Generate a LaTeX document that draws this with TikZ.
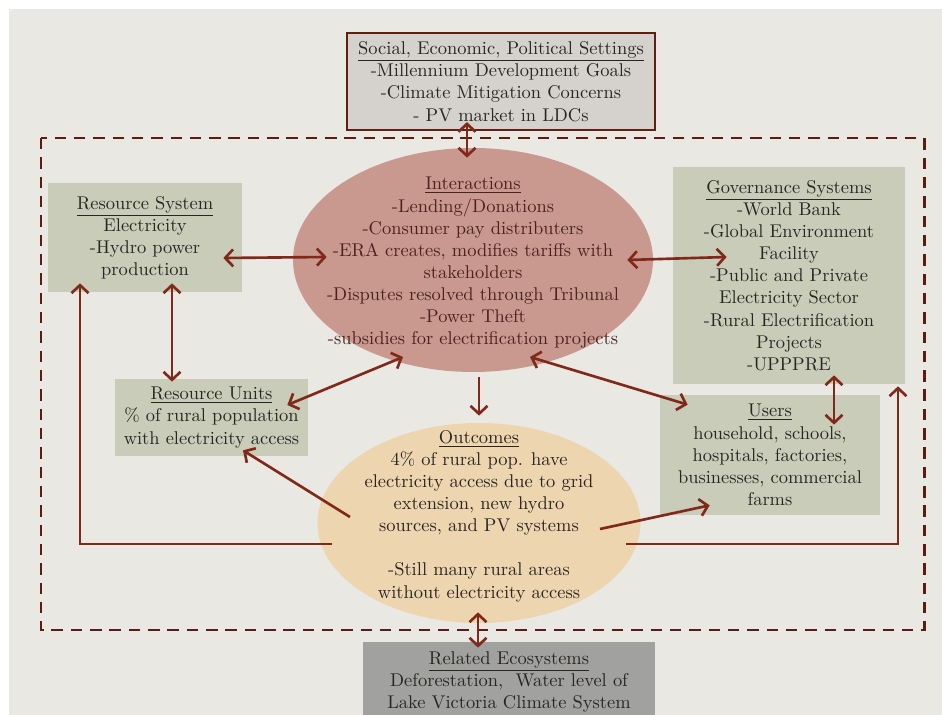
\documentclass[tikz,border=0pt]{standalone}
\usepackage{tikz}
\usetikzlibrary{arrows.meta,shapes.geometric}
\definecolor{slidebg}{RGB}{233,232,226}
\definecolor{sagebox}{RGB}{200,204,184}
\definecolor{greybox}{RGB}{213,210,205}
\definecolor{darkgreybox}{RGB}{161,161,160}
\definecolor{rosefill}{RGB}{201,152,142}
\definecolor{tanfill}{RGB}{237,213,176}
\definecolor{arrowred}{RGB}{128,40,26}
\definecolor{dashbrown}{RGB}{92,28,18}
\definecolor{inktext}{RGB}{40,38,34}
\definecolor{inkbrown}{RGB}{72,36,30}

\begin{document}
\begin{tikzpicture}[x=0.02cm,y=-0.02cm,
  every node/.style={font=\fontsize{10.5}{12.6}\selectfont,text=inktext,align=center,inner sep=0pt},
  sagebox/.style={rectangle,fill=sagebox},
  oval/.style={ellipse},
  >={Straight Barb[length=1.6mm,width=3.4mm]},
  link/.style={draw=arrowred,line width=1.5pt}]
\useasboundingbox (0,0) rectangle (942,715);
\fill[slidebg] (9,9) rectangle (942,715);

% outer settings and the dashed system border
\node[rectangle,fill=greybox,draw=arrowred!75!black,line width=1.2pt,minimum width=6.16cm,minimum height=1.94cm] (setting) at (501,81.5)
  {\underline{Social, Economic, Political Settings}\\-Millennium Development Goals\\-Climate Mitigation Concerns\\- PV market in LDCs};
\draw[dashbrown,line width=1.7pt,dash pattern=on 6.5pt off 4.5pt] (41,138) rectangle (924,630);

% boxes
\node[sagebox,minimum width=3.88cm,minimum height=2.18cm] (resys) at (145,237.5)
  {\underline{Resource System}\\Electricity\\-Hydro power\\production};
\node[sagebox,minimum width=4.64cm,minimum height=4.34cm] (gov) at (789,275.5)
  {\underline{Governance Systems}\\-World Bank\\-Global Environment\\Facility\\-Public and Private\\Electricity Sector\\-Rural Electrification\\Projects\\-UPPPRE};
\node[sagebox,minimum width=3.86cm,minimum height=1.54cm] (runits) at (211.5,417.5)
  {\underline{Resource Units}\\\% of rural population\\with electricity access};
\node[sagebox,minimum width=4.4cm,minimum height=2.4cm] (users) at (770,455)
  {\underline{Users}\\household, schools,\\hospitals, factories,\\businesses, commercial\\farms};
\node[rectangle,fill=darkgreybox,minimum width=5.84cm,minimum height=1.6cm] (releco) at (509,682)
  {\underline{Related Ecosystems}\\Deforestation,\ \ Water level of\\Lake Victoria Climate System};

% ellipses
\node[oval,fill=rosefill,minimum width=7.2cm,minimum height=4.48cm] (inter) at (473,260) {};
\node[text=inkbrown] (intertext) at (473,263)
  {\underline{Interactions}\\-Lending/Donations\\-Consumer pay distributers\\-ERA creates, modifies tariffs with\\stakeholders\\-Disputes resolved through Tribunal\\-Power Theft\\-subsidies for electrification projects};
\node[oval,fill=tanfill,minimum width=6.46cm,minimum height=4cm] (outc) at (479,523) {};
\node (outctext) at (479,516)
  {\underline{Outcomes}\\4\% of rural pop. have\\electricity access due to grid\\extension, new hydro\\sources, and PV systems\\[12.6pt]-Still many rural areas\\without electricity access};

% connectors
\draw[link,<->] ([shift={(-34,-9)}]setting.south) -- ([shift={(-6,10)}]inter.north);
\draw[link,<->] ([shift={(-19,20.5)}]resys.east) -- ([shift={(34,-3)}]inter.west);
\draw[link,<->] ([shift={(-26,0)}]inter.east) -- ([shift={(54,-18.5)}]gov.west);
\draw[link,<->] ([shift={(27,-9)}]resys.south) -- ([shift={(-39.5,3)}]runits.north);
\draw[link,<->] ([shift={(-70,97)}]inter.center) -- ([shift={(-21,-12.5)}]runits.east);
\draw[link,->] ([shift={(6,5)}]inter.south) -- ([shift={(0,-7)}]outc.north);
\draw[link,<->] ([shift={(57,97)}]inter.center) -- ([shift={(28,10)}]users.north west);
\draw[link,<->] ([shift={(45,-9)}]gov.south) -- ([shift={(64,30)}]users.north);
\draw[link,->] ([shift={(-129,-6)}]outc.center) -- ([shift={(31.5,-6)}]runits.south);
\draw[link,->] ([shift={(121,6)}]outc.center) -- ([shift={(50,-10)}]users.south west);
\draw[link,->] ([shift={(15,21)}]outc.west) -| ([shift={(-65,-9)}]resys.south);
\draw[link,->] ([shift={(-15,21)}]outc.east) -| ([shift={(109,2)}]gov.south);
\draw[link,<->] ([shift={(-1,-11)}]outc.south) -- ([shift={(-31,6)}]releco.north);
\end{tikzpicture}
\end{document}
